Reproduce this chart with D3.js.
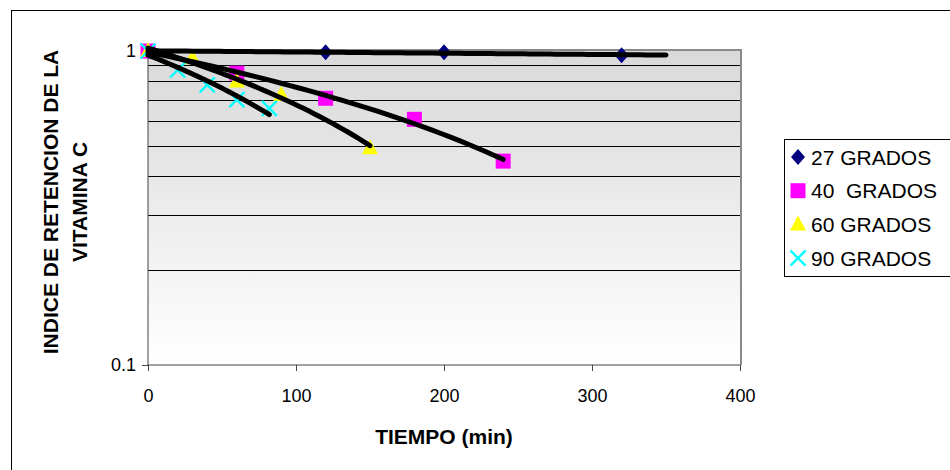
<!DOCTYPE html>
<html>
<head>
<meta charset="utf-8">
<script src="https://cdn.jsdelivr.net/npm/d3@7"></script>
<style>
  body { margin: 0; background: #fff; }
  text { font-family: "Liberation Sans", Arial, sans-serif; }
</style>
</head>
<body>
<svg id="chart" width="950" height="470"></svg>
<script>
// data
var seriesNames = ["27 GRADOS", "40  GRADOS", "60 GRADOS", "90 GRADOS"];
var t27 = [0, 120, 200, 320];
var v27 = [1, 0.99, 0.99, 0.97];
var t40 = [0, 60, 120, 180, 240];
var v40 = [1, 0.85, 0.707, 0.606, 0.446];
var t60 = [0, 30, 60, 90, 150];
var v60 = [1, 0.948, 0.80, 0.724, 0.49];
var t90 = [0, 20, 40, 60, 82];
var v90 = [1, 0.87, 0.78, 0.70, 0.657];
var trendEnd = [350, 240, 150, 82];
var xTicks = [0, 100, 200, 300, 400];
var yGrid = [0.2, 0.3, 0.4, 0.5, 0.6, 0.7, 0.8, 0.9];

var svg = d3.select("#chart");
var plotLeft = 148, plotRight = 740, plotTop = 51, plotBottom = 365;

var x = d3.scaleLinear().domain([0, 400]).range([plotLeft, plotRight]);
var y = d3.scaleLog().domain([0.1, 1]).range([plotBottom, plotTop]);

var colors = ["#000080", "#ff00ff", "#ffff00", "#00ffff"];
var shapes = ["diamond", "square", "triangle", "cross"];

var series = [[t27, v27], [t40, v40], [t60, v60], [t90, v90]].map(function(s, i) {
    return {
        name: seriesNames[i],
        points: s[0].map(function(t, j) { return { t: t, v: s[1][j] }; }),
        end: trendEnd[i],
        color: colors[i],
        shape: shapes[i]
    };
});

// outer frame (runs off the right and bottom edge)
svg.append("rect")
    .attr("x", 11.5).attr("y", 10.5)
    .attr("width", 960).attr("height", 480)
    .attr("fill", "none").attr("stroke", "#000").attr("stroke-width", 1);

// plot background gradient
var grad = svg.append("defs").append("linearGradient")
    .attr("id", "bg").attr("x1", 0).attr("y1", 0).attr("x2", 0).attr("y2", 1);
grad.append("stop").attr("offset", "0%").attr("stop-color", "#d9d9d9");
grad.append("stop").attr("offset", "100%").attr("stop-color", "#ffffff");

svg.append("rect")
    .attr("x", plotLeft).attr("y", plotTop)
    .attr("width", plotRight - plotLeft).attr("height", plotBottom - plotTop)
    .attr("fill", "url(#bg)");

// gridlines
svg.append("g").selectAll("line")
    .data(yGrid)
    .enter().append("line")
    .attr("x1", plotLeft).attr("x2", plotRight)
    .attr("y1", function(d) { return Math.round(y(d)) + 0.5; })
    .attr("y2", function(d) { return Math.round(y(d)) + 0.5; })
    .attr("stroke", "#000").attr("stroke-width", 1);

// plot border top / right
svg.append("path")
    .attr("d", "M" + plotLeft + "," + (plotTop - 1) + "H" + (plotRight + 1) + "V" + plotBottom)
    .attr("fill", "none").attr("stroke", "#8a8a8a").attr("stroke-width", 2);

// x axis
var xAxis = svg.append("g")
    .attr("transform", "translate(0," + plotBottom + ")")
    .call(d3.axisBottom(x).tickValues(xTicks).tickSize(6).tickPadding(18));
xAxis.select(".domain").attr("stroke", "#444").attr("d", "M" + plotLeft + ",0H" + plotRight);
xAxis.selectAll("line").attr("stroke", "#444");
xAxis.selectAll("text").attr("font-size", 18).attr("font-family", "Liberation Sans, Arial, sans-serif").attr("fill", "#000");

// y axis
var yAxis = svg.append("g")
    .attr("transform", "translate(" + plotLeft + ",0)")
    .call(d3.axisLeft(y).tickValues([0.1, 1]).tickFormat(d3.format("")).tickSize(6).tickPadding(6));
yAxis.select(".domain").attr("stroke", "#444").attr("d", "M0," + plotTop + "V" + plotBottom);
yAxis.selectAll("line").attr("stroke", "#444");
yAxis.selectAll("text").attr("font-size", 18).attr("font-family", "Liberation Sans, Arial, sans-serif").attr("fill", "#000");

// axis titles
svg.append("text")
    .attr("x", 444).attr("y", 444)
    .attr("text-anchor", "middle")
    .attr("font-size", 21).attr("font-weight", "bold")
    .text("TIEMPO (min)");

var yTitle = svg.append("text")
    .attr("transform", "translate(58,202) rotate(-90)")
    .attr("text-anchor", "middle")
    .attr("font-size", 21).attr("font-weight", "bold");
yTitle.append("tspan").attr("x", 0).attr("y", 0).text("INDICE DE RETENCION DE LA");
yTitle.append("tspan").attr("x", 0).attr("y", 29).text("VITAMINA C");

// marker drawing
function marker(g, shape, color) {
    if (shape == "diamond") {
        g.append("path").attr("d", "M0,-8L7,0L0,8L-7,0Z").attr("fill", color);
    } else if (shape == "square") {
        g.append("rect").attr("x", -7.5).attr("y", -7.5).attr("width", 15).attr("height", 15).attr("fill", color);
    } else if (shape == "triangle") {
        g.append("path").attr("d", "M0,-9L8,6L-8,6Z").attr("fill", color);
    } else {
        g.append("path").attr("d", "M-7.5,-7.5L7.5,7.5M7.5,-7.5L-7.5,7.5")
            .attr("stroke", color).attr("stroke-width", 2.4).attr("fill", "none");
    }
}

// points
series.forEach(function(s) {
    svg.append("g").selectAll("g")
        .data(s.points)
        .enter().append("g")
        .attr("transform", function(d) { return "translate(" + x(d.t) + "," + y(d.v) + ")"; })
        .each(function() { marker(d3.select(this), s.shape, s.color); });
});

// linear trend lines (least squares of each series)
function linearFit(pts) {
    var mx = d3.mean(pts, function(d) { return d.t; });
    var my = d3.mean(pts, function(d) { return d.v; });
    var sxy = d3.sum(pts, function(d) { return (d.t - mx) * (d.v - my); });
    var sxx = d3.sum(pts, function(d) { return (d.t - mx) * (d.t - mx); });
    var b = sxy / sxx;
    return { a: my - b * mx, b: b };
}

var trendLine = d3.line()
    .x(function(d) { return x(d.t); })
    .y(function(d) { return y(d.v); })
    .curve(d3.curveMonotoneX);

series.forEach(function(s) {
    var fit = linearFit(s.points);
    var pts = d3.range(0, 41).map(function(k) {
        var t = s.end * k / 40;
        return { t: t, v: fit.a + fit.b * t };
    });
    svg.append("path")
        .datum(pts)
        .attr("d", trendLine)
        .attr("fill", "none")
        .attr("stroke", "#000")
        .attr("stroke-width", 5)
        .attr("stroke-linecap", "round");
});

// legend
var legend = svg.append("g");
legend.append("rect")
    .attr("x", 784.5).attr("y", 139.5)
    .attr("width", 180).attr("height", 137)
    .attr("fill", "#fff").attr("stroke", "#000").attr("stroke-width", 1);

var item = legend.selectAll("g.item")
    .data(series)
    .enter().append("g")
    .attr("class", "item")
    .attr("transform", function(d, i) { return "translate(798," + (157 + i * 33.7) + ")"; });
item.each(function(d) { marker(d3.select(this), d.shape, d.color); });
item.append("text")
    .attr("x", 13).attr("y", 7.5)
    .attr("font-size", 21)
    .style("white-space", "pre")
    .text(function(d) { return d.name; });
</script>
</body>
</html>
